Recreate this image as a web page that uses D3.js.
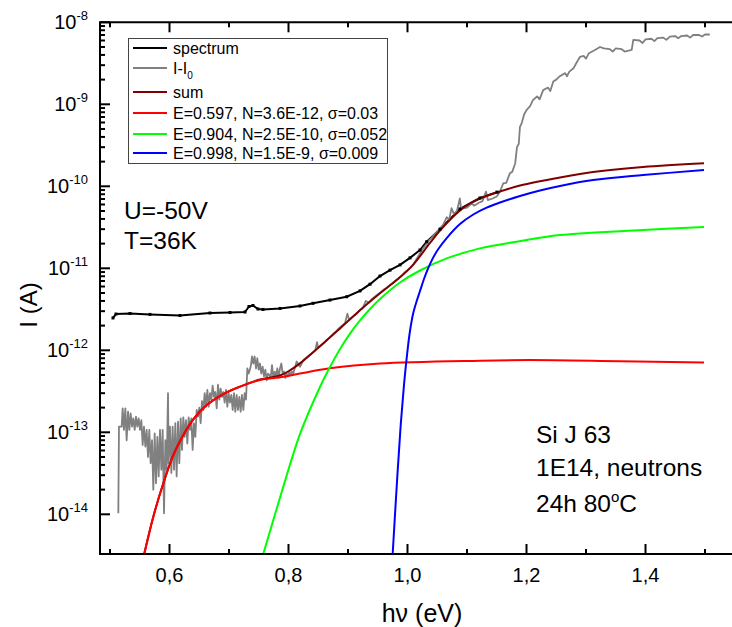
<!DOCTYPE html>
<html>
<head>
<meta charset="utf-8">
<script src="https://cdn.jsdelivr.net/npm/d3@7"></script>
<style>
  body { margin: 0; background: #fff; }
  svg { font-family: Arial, "Liberation Sans", sans-serif; }
</style>
</head>
<body>
<div id="chart"></div>
<script>
// photon energy (eV) / current (A)

const spectrumE = [0.505, 0.5101, 0.5336, 0.5672, 0.6176, 0.668, 0.7017, 0.7269, 0.7336, 0.7403, 0.7487, 0.7571, 0.7857, 0.8193, 0.8412, 0.8697, 0.8978, 0.9202, 0.937, 0.9538, 0.9706, 0.9874, 1.0042, 1.021, 1.0323, 1.0546, 1.0882, 1.1218, 1.1504];
const spectrumI = [2.48e-12, 2.77e-12, 2.81e-12, 2.74e-12, 2.66e-12, 2.85e-12, 2.89e-12, 2.93e-12, 3.42e-12, 3.52e-12, 3.19e-12, 3.15e-12, 3.24e-12, 3.47e-12, 3.74e-12, 4.1e-12, 4.5e-12, 5.3e-12, 6.4e-12, 8.05e-12, 9.5e-12, 1.1e-11, 1.34e-11, 1.67e-11, 2.11e-11, 3.0e-11, 5.3e-11, 7.2e-11, 8.5e-11];

const diffE = [0.5140, 0.5151, 0.5196, 0.5213, 0.5235, 0.5258, 0.5280, 0.5303, 0.5325, 0.5347, 0.5370, 0.5392, 0.5415, 0.5437, 0.5459, 0.5482, 0.5504, 0.5527, 0.5549, 0.5571, 0.5594, 0.5616, 0.5639, 0.5661, 0.5683, 0.5706, 0.5728, 0.5751, 0.5773, 0.5796, 0.5818, 0.5840, 0.5863, 0.5885, 0.5908, 0.5930, 0.5952, 0.5975, 0.5986, 0.6008, 0.6031, 0.6053, 0.6076, 0.6098, 0.6120, 0.6143, 0.6165, 0.6188, 0.6210, 0.6232, 0.6255, 0.6277, 0.6300, 0.6322, 0.6345, 0.6367, 0.6389, 0.6412, 0.6434, 0.6457, 0.6479, 0.6501, 0.6524, 0.6546, 0.6569, 0.6591, 0.6613, 0.6636, 0.6658, 0.6681, 0.6703, 0.6725, 0.6748, 0.6770, 0.6793, 0.6815, 0.6838, 0.6860, 0.6882, 0.6905, 0.6927, 0.6950, 0.6972, 0.6994, 0.7017, 0.7039, 0.7062, 0.7084, 0.7106, 0.7129, 0.7151, 0.7174, 0.7196, 0.7218, 0.7241, 0.7263, 0.7286, 0.7308, 0.7331, 0.7364, 0.7387, 0.7409, 0.7431, 0.7454, 0.7476, 0.7499, 0.7521, 0.7543, 0.7566, 0.7588, 0.7611, 0.7633, 0.7655, 0.7678, 0.7700, 0.7723, 0.7745, 0.7767, 0.7790, 0.7812, 0.7835, 0.7857, 0.7880, 0.7902, 0.7924, 0.7947, 0.7969, 0.7992, 0.8014, 0.8036, 0.8059, 0.8081, 0.8137, 0.8193,
  0.825, 0.830, 0.835, 0.840, 0.845, 0.848, 0.850, 0.855, 0.860, 0.865, 0.870, 0.875, 0.880, 0.885, 0.890, 0.895, 0.899, 0.902, 0.908, 0.915, 0.920, 0.925, 0.930, 0.935, 0.940, 0.945, 0.950, 0.955, 0.960, 0.965, 0.970, 0.975, 0.980, 0.985, 0.990, 0.995, 1.000, 1.005, 1.010, 1.015, 1.020, 1.025, 1.030, 1.035, 1.040, 1.045, 1.050, 1.055, 1.060, 1.066, 1.070, 1.074, 1.078, 1.083, 1.088, 1.090, 1.100, 1.108, 1.112, 1.120, 1.126, 1.132, 1.135, 1.143, 1.150, 1.155, 1.161, 1.166, 1.172, 1.176, 1.181, 1.184, 1.187, 1.189, 1.192, 1.196, 1.200, 1.206, 1.211, 1.218, 1.222, 1.228, 1.236, 1.240, 1.245, 1.250, 1.256, 1.265, 1.268, 1.272, 1.279, 1.285, 1.290, 1.296, 1.300, 1.305, 1.315, 1.3235, 1.33, 1.34, 1.345, 1.35, 1.36, 1.365, 1.3768, 1.3795, 1.39, 1.395, 1.40, 1.41, 1.415, 1.42, 1.43, 1.435, 1.441, 1.45, 1.455, 1.46, 1.47, 1.475, 1.48, 1.49, 1.495, 1.5, 1.508];
const diffI = [1.03e-14, 1.17e-13, 1.17e-13, 1.96e-13, 1.07e-13, 1.96e-13, 8.0e-14, 1.78e-13, 1.07e-13, 1.7e-13, 1.17e-13, 1.48e-13, 1.07e-13, 1.55e-13, 1.17e-13, 1.48e-13, 1.07e-13, 1.41e-13, 7.0e-14, 1.17e-13, 6.7e-14, 1.07e-13, 5.0e-14, 1.07e-13, 4.2e-14, 8.0e-14, 2.0e-14, 9.7e-14, 2.4e-14, 8.8e-14, 2.9e-14, 1.07e-13, 3.5e-14, 1.07e-13, 1.03e-14, 8.0e-14, 3.5e-14, 3.0e-13, 4.2e-14, 1.17e-13, 3.2e-14, 1.17e-13, 3.5e-14, 1.29e-13, 2.9e-14, 1.35e-13, 4.2e-14, 1.48e-13, 6.1e-14, 1.52e-13, 8.8e-14, 1.41e-13, 7.3e-14, 1.52e-13, 1.07e-13, 1.48e-13, 6.1e-14, 1.29e-13, 8.8e-14, 1.87e-13, 1.55e-13, 2.0e-13, 1.29e-13, 2.4e-13, 1.87e-13, 3.0e-13, 2.05e-13, 3.3e-13, 2.05e-13, 3.0e-13, 2.5e-13, 3.7e-13, 2.7e-13, 3.1e-13, 1.96e-13, 3.8e-13, 2.5e-13, 3.4e-13, 2.7e-13, 3.1e-13, 2.3e-13, 3.3e-13, 2.05e-13, 3.0e-13, 2.3e-13, 2.85e-13, 1.87e-13, 3.0e-13, 1.78e-13, 2.85e-13, 1.87e-13, 2.7e-13, 1.78e-13, 2.85e-13, 1.87e-13, 3.0e-13, 2.5e-13, 6.0e-13, 5.2e-13, 6.3e-13, 8.4e-13, 6.9e-13, 8.4e-13, 6.0e-13, 8.0e-13, 5.8e-13, 6.9e-13, 5.2e-13, 6.3e-13, 4.8e-13, 5.8e-13, 4.3e-13, 5.2e-13, 5.0e-13, 4.6e-13, 6.6e-13, 4.6e-13, 5.5e-13, 4.8e-13, 6.0e-13, 4.6e-13, 6.0e-13, 6.9e-13, 5.2e-13, 5.5e-13, 4.6e-13, 5.2e-13, 4.8e-13, 5.5e-13, 5.0e-13, 5.5e-13, 5.2e-13, 7.3e-13, 6.3e-13,
  7.6e-13, 8.1e-13, 8.7e-13, 9.3e-13, 1.0e-12, 1.26e-12, 1.07e-12, 1.15e-12, 1.23e-12, 1.35e-12, 1.45e-12, 1.58e-12, 1.7e-12, 1.86e-12, 2.0e-12, 2.14e-12, 2.8e-12, 2.34e-12, 2.57e-12, 2.8e-12, 3.1e-12, 3.3e-12, 4.0e-12, 3.8e-12, 4.2e-12, 4.5e-12, 4.8e-12, 5.1e-12, 5.5e-12, 5.75e-12, 6.2e-12, 6.6e-12, 7.1e-12, 7.6e-12, 8.1e-12, 8.9e-12, 9.5e-12, 1.02e-11, 1.12e-11, 1.29e-11, 1.48e-11, 1.7e-11, 1.9e-11, 2.14e-11, 2.34e-11, 2.57e-11, 2.8e-11, 3.1e-11, 3.4e-11, 4.2e-11, 3.9e-11, 5.4e-11, 4.6e-11, 5.0e-11, 7.1e-11, 5.3e-11, 5.5e-11, 6.2e-11, 5.8e-11, 6.3e-11, 6.6e-11, 8.6e-11, 6.8e-11, 7.1e-11, 7.5e-11, 8.5e-11, 1.09e-10, 1.1e-10, 1.44e-10, 1.5e-10, 1.9e-10, 3.0e-10, 3.3e-10, 5.3e-10, 5.9e-10, 7.5e-10, 8.5e-10, 9.5e-10, 1.13e-9, 1.25e-9, 1.15e-9, 1.49e-9, 1.6e-9, 1.45e-9, 1.9e-9, 2.0e-9, 2.2e-9, 2.4e-9, 2.2e-9, 2.5e-9, 2.75e-9, 3.3e-9, 3.8e-9, 3.9e-9, 3.6e-9, 4.2e-9, 4.6e-9, 5.0e-9, 4.8e-9, 4.7e-9, 4.4e-9, 4.8e-9, 4.7e-9, 4.4e-9, 4.6e-9, 6.1e-9, 6.0e-9, 5.6e-9, 6.2e-9, 6.3e-9, 5.9e-9, 6.4e-9, 6.5e-9, 6.1e-9, 6.7e-9, 6.8e-9, 6.4e-9, 6.8e-9, 6.9e-9, 6.5e-9, 7.0e-9, 7.0e-9, 6.7e-9, 7.1e-9, 7.1e-9];

const sumE = [0.5576, 0.5728, 0.5896, 0.6064, 0.6232, 0.640, 0.6625, 0.6904, 0.7185, 0.7521, 0.7857, 0.8025, 0.8193, 0.8529, 0.8866, 0.9202, 0.9538, 0.9874, 1.0097, 1.0378, 1.0546, 1.0882, 1.105, 1.1218, 1.1555, 1.1891, 1.2563, 1.3118, 1.3958, 1.4983];
const sumI = [3.3e-15, 9.35e-15, 2.39e-14, 5.28e-14, 9.27e-14, 1.44e-13, 2.15e-13, 2.93e-13, 3.61e-13, 4.4e-13, 4.93e-13, 5.7e-13, 6.93e-13, 1.12e-12, 1.85e-12, 3.08e-12, 4.95e-12, 7.76e-12, 1.11e-11, 2.04e-11, 2.89e-11, 5.07e-11, 6.17e-11, 7.1e-11, 8.65e-11, 1.02e-10, 1.28e-10, 1.49e-10, 1.72e-10, 1.91e-10];

const redE = [0.5576, 0.5728, 0.5896, 0.6064, 0.6232, 0.640, 0.6625, 0.6904, 0.7185, 0.7521, 0.7857, 0.8193, 0.8697, 0.9538, 1.1218, 1.2059, 1.3571, 1.4983];
const redI = [3.3e-15, 9.35e-15, 2.39e-14, 5.28e-14, 9.27e-14, 1.44e-13, 2.15e-13, 2.93e-13, 3.6e-13, 4.35e-13, 4.69e-13, 5.21e-13, 6.03e-13, 6.9e-13, 7.47e-13, 7.6e-13, 7.35e-13, 7.1e-13];

const greenE = [0.7577, 0.7886, 0.8193, 0.8529, 0.8697, 0.8866, 0.9034, 0.9202, 0.937, 0.9538, 0.9874, 1.021, 1.0659, 1.1218, 1.1835, 1.2563, 1.3958, 1.4983];
const greenI = [3.3e-15, 1.87e-14, 9.5e-14, 3.57e-13, 6.25e-13, 1.04e-12, 1.6e-12, 2.31e-12, 3.19e-12, 4.23e-12, 6.71e-12, 9.4e-12, 1.32e-11, 1.75e-11, 2.11e-11, 2.55e-11, 2.93e-11, 3.19e-11];

const blueE = [0.9751, 0.9818, 0.9886, 0.9941, 0.9992, 1.0042, 1.0097, 1.016, 1.021, 1.0277, 1.035, 1.0429, 1.0518, 1.0659, 1.0882, 1.1106, 1.133, 1.1555, 1.1891, 1.2227, 1.2563, 1.3118, 1.3958, 1.4983];
const blueI = [3.3e-15, 2.15e-14, 1.23e-13, 3.78e-13, 8.8e-13, 1.72e-12, 2.85e-12, 4.1e-12, 5.28e-12, 7.4e-12, 1.01e-11, 1.34e-11, 1.72e-11, 2.34e-11, 3.47e-11, 4.53e-11, 5.5e-11, 6.34e-11, 7.62e-11, 8.9e-11, 1.01e-10, 1.19e-10, 1.37e-10, 1.58e-10];

const xMajor = [0.6, 0.8, 1.0, 1.2, 1.4];
const xMinor = [0.5, 0.7, 0.9, 1.1, 1.3, 1.5];
const yDecades = [-14, -13, -12, -11, -10, -9, -8];

const legendItems = [
  { label: "spectrum", color: "#000000" },
  { label: "I-I", sub: "0", color: "#808080" },
  { label: "sum", color: "#800000" },
  { label: "E=0.597, N=3.6E-12, σ=0.03", color: "#ff0000" },
  { label: "E=0.904, N=2.5E-10, σ=0.052", color: "#00ff00" },
  { label: "E=0.998, N=1.5E-9, σ=0.009", color: "#0000ff" }
];

const width = 732, height = 627;
const pLeft = 100, pTop = 22.3, pBottom = 554, pRight = 734.75;

const svg = d3.select("#chart").append("svg")
  .attr("width", width)
  .attr("height", height);

const x = d3.scaleLinear().domain([0.4832, 1.55]).range([pLeft, pRight]);
const y = d3.scaleLog().domain([3.28e-15, 1e-8]).range([pBottom, pTop]);

svg.append("defs").append("clipPath").attr("id", "plot")
  .append("rect")
  .attr("x", pLeft).attr("y", pTop)
  .attr("width", pRight - pLeft).attr("height", pBottom - pTop);

const zip = (es, is) => es.map((e, i) => ({ e: e, i: is[i] }));

const lineRaw = d3.line().x(d => x(d.e)).y(d => y(d.i));
const lineFit = d3.line().x(d => x(d.e)).y(d => y(d.i)).curve(d3.curveCatmullRom.alpha(0.5));

const series = [
  { data: zip(spectrumE, spectrumI), color: "#000000", gen: lineRaw, w: 2 },
  { data: zip(diffE, diffI), color: "#808080", gen: lineRaw, w: 1.8 },
  { data: zip(sumE, sumI), color: "#800000", gen: lineFit, w: 2 },
  { data: zip(redE, redI), color: "#ff0000", gen: lineFit, w: 2 },
  { data: zip(greenE, greenI), color: "#00ff00", gen: lineFit, w: 2 },
  { data: zip(blueE, blueI), color: "#0000ff", gen: lineFit, w: 2 }
];

const plot = svg.append("g").attr("clip-path", "url(#plot)");
plot.selectAll("path")
  .data(series)
  .join("path")
  .attr("d", d => d.gen(d.data))
  .attr("fill", "none")
  .attr("stroke", d => d.color)
  .attr("stroke-width", d => d.w)
  .attr("stroke-linejoin", "round");

// small markers on the spectrum
plot.append("g")
  .selectAll("rect")
  .data(zip(spectrumE, spectrumI))
  .join("rect")
  .attr("x", d => x(d.e) - 1.5)
  .attr("y", d => y(d.i) - 1.5)
  .attr("width", 3).attr("height", 3)
  .attr("fill", "#000");

// frame
const axes = svg.append("g").attr("stroke", "#000").attr("stroke-width", 2).attr("fill", "none");
axes.append("line").attr("x1", pLeft).attr("x2", pLeft).attr("y1", pTop).attr("y2", pBottom + 1);
axes.append("line").attr("x1", pLeft - 1).attr("x2", width).attr("y1", pBottom).attr("y2", pBottom);
axes.append("line").attr("x1", pLeft - 1).attr("x2", width).attr("y1", pTop).attr("y2", pTop);

// x ticks (bottom and top, pointing inward)
const xt = svg.append("g").attr("stroke", "#000").attr("stroke-width", 2);
xMajor.concat(xMinor).forEach(v => {
  const len = xMajor.includes(v) ? 10 : 5;
  xt.append("line").attr("x1", x(v)).attr("x2", x(v)).attr("y1", pBottom).attr("y2", pBottom - len);
  xt.append("line").attr("x1", x(v)).attr("x2", x(v)).attr("y1", pTop).attr("y2", pTop + len);
});

svg.append("g")
  .selectAll("text")
  .data(xMajor)
  .join("text")
  .attr("x", d => x(d))
  .attr("y", pBottom + 28)
  .attr("text-anchor", "middle")
  .attr("font-size", 20)
  .text(d => d3.format(".1f")(d).replace(".", ","));

// y ticks
const yt = svg.append("g").attr("stroke", "#000").attr("stroke-width", 2);
yDecades.forEach(k => {
  for (let m = 1; m <= 9; m++) {
    const v = m * Math.pow(10, k);
    if (v < y.domain()[0] || v > y.domain()[1] * 1.0001) continue;
    const len = m === 1 ? 10 : 5;
    yt.append("line").attr("x1", pLeft).attr("x2", pLeft + len).attr("y1", y(v)).attr("y2", y(v));
  }
});

const yl = svg.append("g")
  .selectAll("text")
  .data(yDecades)
  .join("text")
  .attr("x", 88)
  .attr("y", d => y(Math.pow(10, d)) + 7)
  .attr("text-anchor", "end")
  .attr("font-size", 20);
yl.append("tspan").text("10");
yl.append("tspan").attr("dy", -9).attr("font-size", 13).text(d => String(d));

// axis titles
svg.append("text")
  .attr("x", 422).attr("y", 622)
  .attr("text-anchor", "middle")
  .attr("font-size", 25)
  .text("hν (eV)");

svg.append("text")
  .attr("transform", "translate(37,305) rotate(-90)")
  .attr("text-anchor", "middle")
  .attr("font-size", 24)
  .text("I (A)");

// legend
const lg = svg.append("g");
lg.append("rect")
  .attr("x", 128.5).attr("y", 38.5)
  .attr("width", 259).attr("height", 125)
  .attr("fill", "#fff")
  .attr("stroke", "#444")
  .attr("stroke-width", 1);
const rowY = [48, 68, 92, 113, 134, 153];
const rows = lg.selectAll("g.row")
  .data(legendItems)
  .join("g")
  .attr("class", "row")
  .attr("transform", (d, i) => `translate(0,${rowY[i]})`);
rows.append("line")
  .attr("x1", 133).attr("x2", 167)
  .attr("stroke", d => d.color)
  .attr("stroke-width", 2);
const rt = rows.append("text")
  .attr("x", 173).attr("y", 5.5)
  .attr("font-size", 16);
rt.append("tspan").text(d => d.label);
rt.filter(d => d.sub).append("tspan")
  .attr("dy", 5).attr("font-size", 10)
  .text(d => d.sub);

// annotations
const note = svg.append("g").attr("font-size", 24.5);
note.append("text").attr("x", 124).attr("y", 219).text("U=-50V");
note.append("text").attr("x", 124).attr("y", 249).text("T=36K");
note.append("text").attr("x", 536).attr("y", 443).text("Si J 63");
note.append("text").attr("x", 536).attr("y", 476).text("1E14, neutrons");
const deg = note.append("text").attr("x", 536).attr("y", 512);
deg.append("tspan").text("24h 80");
deg.append("tspan").attr("dy", -10).attr("font-size", 15).text("o");
deg.append("tspan").attr("dy", 10).text("C");
</script>
</body>
</html>
